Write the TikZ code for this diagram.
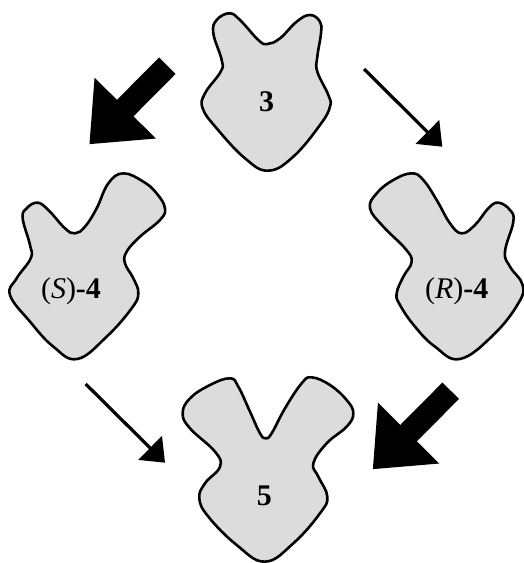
\documentclass[tikz,border=0pt]{standalone}
\usepackage{fontspec}
\setmainfont{Liberation Serif}
\usetikzlibrary{arrows.meta}
\definecolor{blobgray}{HTML}{DCDCDC}
\tikzset{
  blob/.style={draw=black,fill=blobgray,line width=2.6pt,line join=round},
  lab/.style={font=\fontsize{30}{30}\selectfont,inner sep=0pt,anchor=center},
  thickarrow/.style={draw=black,line width=23.3pt,-{Triangle[length=51pt,width=83pt]}},
  thinarrow/.style={draw=black,line width=3.2pt,-{Triangle[length=21pt,width=33pt]}}
}
\begin{document}
\begin{tikzpicture}[x=1pt,y=-1pt]
\useasboundingbox (0,0) rectangle (523,563);
% molecule 3
\begin{scope}[shift={(180,0)},x=0.3333pt,y=-0.3333pt]
\draw[blob] plot[smooth cycle,tension=0.7] coordinates {(262,132)(300,115)(350,65)(390,45)(420,65)(423,100)(412,170)(412,215)(445,285)(450,320)(420,375)(340,470)(265,512)(195,475)(110,385)(68,325)(75,280)(122,215)(125,180)(100,100)(110,60)(148,40)(180,60)(235,120)};
\end{scope}
% molecule S-4
\begin{scope}[shift={(0,180)},x=0.3333pt,y=-0.3333pt]
\draw[blob] plot[smooth cycle,tension=0.7] coordinates {(225,160)(255,140)(290,85)(325,10)(370,-20)(430,5)(470,40)(495,85)(480,120)(420,170)(380,215)(375,250)(400,295)(415,340)(395,385)(320,470)(232,537)(160,500)(90,425)(30,345)(50,295)(92,235)(90,195)(68,115)(80,85)(112,68)(145,90)(195,145)};
\end{scope}
% molecule R-4
\begin{scope}[shift={(350,180)},x=0.3333pt,y=-0.3333pt]
\draw[blob] plot[smooth cycle,tension=0.7] coordinates {(335,160)(375,135)(415,85)(445,68)(480,90)(490,125)(465,215)(480,260)(518,315)(505,370)(430,465)(330,537)(255,500)(195,440)(150,375)(140,340)(160,290)(185,245)(165,205)(100,140)(60,85)(80,40)(130,0)(185,-20)(220,0)(260,60)(300,130)};
\end{scope}
% molecule 5
\begin{scope}[shift={(170,370)},x=0.3333pt,y=-0.3333pt]
\draw[blob] plot[smooth cycle,tension=0.7] coordinates {(287,205)(305,190)(345,115)(395,40)(425,22)(480,45)(530,90)(550,130)(530,170)(470,220)(430,280)(445,320)(472,380)(450,430)(370,520)(285,575)(200,525)(115,440)(88,385)(105,340)(150,290)(135,245)(60,175)(38,130)(60,85)(120,45)(180,25)(205,50)(240,125)(270,190)};
\end{scope}
% labels
\node[lab] (m3) at (266.7,102) {\textbf{3}};
\node[lab] (mS) at (71,291) {(\textit{S})\textbf{-4}};
\node[lab] (mR) at (456.7,291) {(\textit{R})\textbf{-4}};
\node[lab] (m5) at (264.3,496) {\textbf{5}};
% connector ends
\coordinate (a1s) at (167.3,65.7);
\coordinate (a1e) at (89.3,144.3);
\coordinate (a2s) at (364,69);
\coordinate (a2e) at (442.3,146.7);
\coordinate (a3s) at (85.7,384);
\coordinate (a3e) at (165,462.7);
\coordinate (a4s) at (450.7,390.7);
\coordinate (a4e) at (372.7,469.3);
\draw[thickarrow] (a1s) -- (a1e);
\draw[thinarrow] (a2s) -- (a2e);
\draw[thinarrow] (a3s) -- (a3e);
\draw[thickarrow] (a4s) -- (a4e);
\end{tikzpicture}
\end{document}
